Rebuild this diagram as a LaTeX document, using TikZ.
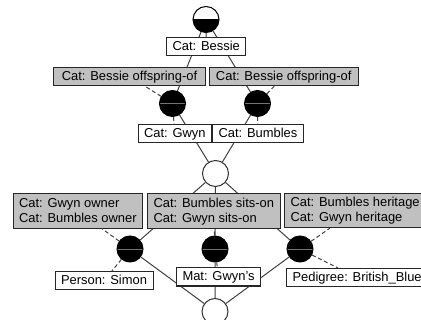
\documentclass[tikz,border=0pt]{standalone}
\usepackage{fontspec}
\setmainfont{Liberation Sans}
\definecolor{attrgray}{RGB}{192,192,192}
\definecolor{edgegray}{RGB}{64,64,64}
\newcommand{\lblfont}{\fontsize{9.7}{11.25}\selectfont}
\newcommand{\lstrut}{\rule[-2pt]{0pt}{9.5pt}}
\tikzset{every picture/.style={line width=0.75pt}}
\tikzset{
  lbl/.style={draw=black!85, font=\lblfont, inner xsep=4.5pt, inner ysep=2pt, anchor=north west},
  objlbl/.style={lbl, fill=white, text height=7.5pt, text depth=2pt},
  attrlbl/.style={lbl, fill=attrgray, text height=7.5pt, text depth=2pt},
  attrlbltwo/.style={lbl, fill=attrgray, align=left, inner ysep=2.5pt},
  concept/.style={circle, draw=black, minimum size=19.5pt, inner sep=0pt},
  topconcept/.style={concept, fill=white, path picture={\fill[black] (path picture bounding box.west) rectangle (path picture bounding box.south east);}},
  fullconcept/.style={concept, fill=black, path picture={\draw[black!55, line width=0.35pt] (path picture bounding box.west) -- (path picture bounding box.east);}},
  emptyconcept/.style={concept, draw=black!80, fill=white},
  link/.style={draw=edgegray},
  lbllink/.style={draw=edgegray, dash pattern=on 3pt off 2pt}
}
\begin{document}
\begin{tikzpicture}[x=0.75pt,y=0.75pt,yscale=-1,xscale=1]
	\useasboundingbox (0,0) rectangle (421,320);

	%Shape: Circle [top]
	\node [topconcept] (top) at (206,19.5) {};
	%Shape: Circle [offspring]
	\node [fullconcept] (gwync) at (172.5,103.5) {};
	\node [fullconcept] (bumblesc) at (257.5,103.5) {};
	%Shape: Circle [middle]
	\node [emptyconcept] (mid) at (215.5,173.5) {};
	%Shape: Circle [relations]
	\node [fullconcept] (ownerc) at (130,249) {};
	\node [fullconcept] (sitsc) at (215,249) {};
	\node [fullconcept] (heritc) at (300,249) {};
	%Shape: Circle [bottom]
	\node [emptyconcept] (bot) at (215,311.5) {};

	%Lines between concepts
	\draw [link] (top) -- (gwync) (top) -- (bumblesc);
	\draw [link] (gwync) -- (mid) (bumblesc) -- (mid);
	\draw [link] (mid) -- (ownerc) (mid) -- (sitsc) (mid) -- (heritc);
	\draw [link] (ownerc) -- (bot) (sitsc) -- (bot) (heritc) -- (bot);

	% Text Node
	\draw (166,37) node [objlbl] (bessie) {Cat: Bessie};
	% Text Node
	\draw (53,67) node [attrlbl, minimum width=114pt] (offl) {Cat: Bessie offspring-of};
	% Text Node
	\draw (208.5,67) node [attrlbl, minimum width=112pt] (offr) {Cat: Bessie offspring-of};
	% Text Node
	\draw (137.5,124.5) node [objlbl] (gwyn) {Cat: Gwyn};
	% Text Node
	\draw (212,124.5) node [objlbl] (bumbles) {Cat: Bumbles};
	% Text Node
	\draw (12.5,193.5) node [attrlbltwo] (owner) {\lstrut Cat: Gwyn owner\\\lstrut Cat: Bumbles owner};
	% Text Node
	\draw (147,193.5) node [attrlbltwo] (sitson) {\lstrut Cat: Bumbles sits-on\\\lstrut Cat: Gwyn sits-on};
	% Text Node
	\draw (284,193) node [attrlbltwo] (heritage) {\lstrut Cat: Bumbles heritage\\\lstrut Cat: Gwyn heritage};
	% Text Node
	\draw (54.5,271) node [objlbl] (simon) {Person: Simon};
	% Text Node
	\draw (176,267.5) node [objlbl] (mat) {Mat: Gwyn's};
	% Text Node
	\draw (286,268) node [objlbl] (pedigree) {Pedigree: British\_Blue};

	%Label lines
	\draw [lbllink] (top) -- (bessie);
	\draw [lbllink] (gwync) -- (offl) (gwync) -- (gwyn);
	\draw [lbllink] (bumblesc) -- (offr) (bumblesc) -- (bumbles);
	\draw [lbllink] (ownerc) -- (owner) (ownerc) -- (simon);
	\draw [lbllink] (sitsc) -- (sitson) (sitsc) -- (mat);
	\draw [lbllink] (heritc) -- (heritage) (heritc) -- (pedigree);

\end{tikzpicture}
\end{document}
